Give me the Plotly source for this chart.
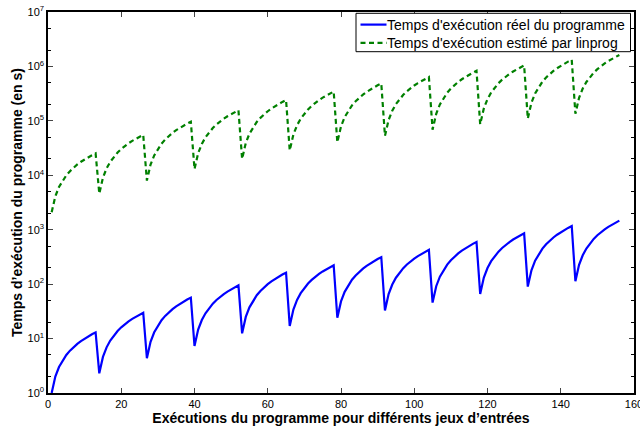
import plotly.graph_objects as go

# Run index (1..156), 12 groups of 13 runs
runs = list(range(1, 157))

reel = [
    1, 2, 3, 4, 5, 6, 7, 8, 9, 10, 11, 12, 13,
    2.3, 4.6, 6.9, 9.2, 11.5, 13.8, 16.1, 18.4, 20.7, 23, 25.3, 27.6, 29.9,
    4.35, 8.7, 13.05, 17.4, 21.75, 26.1, 30.45, 34.8, 39.15, 43.5, 47.85, 52.2, 56.55,
    7.3, 14.6, 21.9, 29.2, 36.5, 43.8, 51.1, 58.4, 65.7, 73, 80.3, 87.6, 94.9,
    12.5, 25, 37.5, 50, 62.5, 75, 87.5, 100, 112.5, 125, 137.5, 150, 162.5,
    17.1, 34.2, 51.3, 68.4, 85.5, 102.6, 119.7, 136.8, 153.9, 171, 188.1, 205.2, 222.3,
    24.1, 48.2, 72.3, 96.4, 120.5, 144.6, 168.7, 192.8, 216.9, 241, 265.1, 289.2, 313.3,
    32.8, 65.6, 98.4, 131.2, 164, 196.8, 229.6, 262.4, 295.2, 328, 360.8, 393.6, 426.4,
    45.8, 91.6, 137.4, 183.2, 229, 274.8, 320.6, 366.4, 412.2, 458, 503.8, 549.6, 595.4,
    66, 132, 198, 264, 330, 396, 462, 528, 594, 660, 726, 792, 858,
    90, 180, 270, 360, 450, 540, 630, 720, 810, 900, 990, 1080, 1170,
    113, 226, 339, 452, 565, 678, 791, 904, 1017, 1130, 1243, 1356, 1469,
]

estime = [
    2100, 4110, 6100, 8060, 10000, 11900, 13900, 15800, 17700, 19600, 21500, 23400, 25300,
    4600, 9010, 13400, 17700, 21900, 26200, 30400, 34600, 38800, 42900, 47100, 51200, 55400,
    8000, 15700, 23200, 30700, 38100, 45500, 52800, 60100, 67400, 74700, 81900, 89100, 96300,
    13000, 25500, 37700, 49900, 61900, 73900, 85800, 97700, 109500, 121300, 133100, 144800, 156500,
    20000, 39200, 58100, 76700, 95300, 113700, 132100, 150300, 168500, 186600, 204700, 222800, 240700,
    28600, 56000, 83000, 109700, 136300, 162600, 188800, 215000, 241000, 266900, 292800, 318600, 344300,
    40400, 79100, 117300, 155000, 192500, 229700, 266800, 303600, 340400, 377000, 413600, 450000, 486300,
    53000, 103800, 153900, 203400, 252500, 301400, 350000, 398300, 446600, 494600, 542600, 590400, 638000,
    69000, 135200, 200300, 264800, 328700, 392300, 455600, 518600, 581400, 643900, 706400, 768600, 830600,
    86500, 169500, 251100, 331900, 412100, 491800, 571200, 650100, 728800, 807200, 885500, 963500, 1041000,
    110000, 215500, 319300, 422100, 524000, 625500, 726300, 826800, 926900, 1026500, 1126100, 1225300, 1324100,
    135000, 264500, 391900, 518000, 643100, 767600, 891400, 1014700, 1137500, 1259800, 1382000, 1503800, 1625000,
]

x_ticks = [0, 20, 40, 60, 80, 100, 120, 140, 160]
y_tickvals = [1, 10, 100, 1e3, 1e4, 1e5, 1e6, 1e7]
y_ticktext = ["10<sup>%d</sup>" % i for i in range(8)]

name_reel = "Temps d'exécution réel du programme"
name_est = "Temps d'exécution estimé par linprog"
x_title = "Exécutions du programme pour différents jeux d’entrées"
y_title = "Temps d’exécution du programme (en s)"

FONT = "Liberation Sans, Arial, Helvetica, sans-serif"
BLUE = "#0000FF"
GREEN = "#008000"
GREEN_DASH = "5px,3.5px"

W, H = 640, 426
ML, MR, MT, MB = 48, 6, 12, 33
PW, PH = W - ML - MR, H - MT - MB


def px_x(p):
    return (p - ML) / PW


def px_y(p):
    return (H - MB - p) / PH


fig = go.Figure()
fig.add_trace(go.Scatter(x=runs, y=reel, mode="lines", name=name_reel,
                         line=dict(color=BLUE, width=2.2)))
fig.add_trace(go.Scatter(x=runs, y=estime, mode="lines", name=name_est,
                         line=dict(color=GREEN, width=2.2, dash=GREEN_DASH)))

# Legend box (MATLAB style, compact)
lx0, lx1, ly0, ly1 = 356, 630.5, 13.3, 51.7
fig.add_shape(type="rect", xref="paper", yref="paper",
              x0=px_x(lx0), x1=px_x(lx1), y0=px_y(ly1), y1=px_y(ly0),
              line=dict(color="black", width=1), fillcolor="white", layer="above")
rows = [(24.6, BLUE, "solid", name_reel), (42.8, GREEN, GREEN_DASH, name_est)]
for ry, col, dsh, label in rows:
    fig.add_shape(type="line", xref="paper", yref="paper",
                  x0=px_x(360.5), x1=px_x(386.5), y0=px_y(ry), y1=px_y(ry),
                  line=dict(color=col, width=2.2, dash=dsh), layer="above")
    fig.add_annotation(xref="paper", yref="paper", x=px_x(386), y=px_y(ry),
                       xanchor="left", yanchor="middle", showarrow=False,
                       text=label, borderpad=0,
                       font=dict(family=FONT, size=14, color="black"))

fig.update_layout(
    width=W, height=H,
    margin=dict(l=ML, r=MR, t=MT, b=MB),
    paper_bgcolor="white", plot_bgcolor="white",
    font=dict(family=FONT, size=11, color="black"),
    showlegend=False,
    xaxis=dict(range=[0, 160], tickvals=x_ticks, ticks="inside", ticklen=5,
               tickwidth=1, showline=True, linecolor="black", linewidth=1.5,
               mirror="ticks", showgrid=False, zeroline=False, automargin=False,
               ticklabeloverflow="allow",
               tickfont=dict(family=FONT, size=11),
               title=dict(text="<b>" + x_title + "</b>", standoff=1,
                          font=dict(family=FONT, size=14))),
    yaxis=dict(type="log", range=[0, 7], tickvals=y_tickvals, ticktext=y_ticktext,
               ticks="inside", ticklen=5, tickwidth=1, showline=True,
               linecolor="black", linewidth=1.5, mirror="ticks", showgrid=False,
               zeroline=False, automargin=False, tickfont=dict(family=FONT, size=11),
               minor=dict(ticks="inside", ticklen=3, tickcolor="black", showgrid=False),
               title=dict(text="<b>" + y_title + "</b>", standoff=2,
                          font=dict(family=FONT, size=14))),
)

fig.write_html("out.html", config={"displayModeBar": False},
               post_script="document.body.style.margin='0';document.body.style.padding='0';")
